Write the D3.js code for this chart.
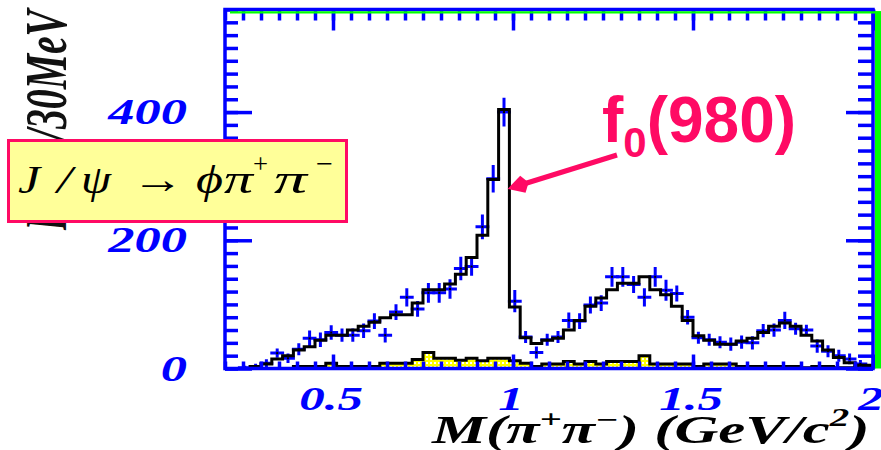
<!DOCTYPE html>
<html>
<head>
<meta charset="utf-8">
<script src="https://cdn.jsdelivr.net/npm/d3@7"></script>
<style>
  html, body { margin: 0; padding: 0; background: #ffffff; }
  svg { display: block; }
</style>
</head>
<body>
<svg id="chart" width="881" height="450"></svg>
<script>
// M(pi+ pi-) spectrum in J/psi -> phi pi+ pi-, 30 MeV bins starting at 0.21 GeV
const binStart = 0.21;
const binWidth = 0.03;

// fitted total (black histogram), events per bin
const fitCounts = [
  0, 0, 3, 7, 15, 20, 29, 34, 44, 52,
  52, 60, 66, 72, 79, 84, 84, 102, 123, 123,
  132, 147, 173, 208, 295, 404, 96, 48, 39, 44,
  47, 60, 75, 97, 110, 123, 133, 133, 143, 123,
  115, 97, 75, 51, 44, 38, 38, 43, 47, 56,
  66, 71, 66, 52, 43, 29, 17, 9, 5, 5
];

// measured events (blue crosses) and their errors
const dataCounts = [
  0, 1, 3, 8, 24, 16, 30, 47, 45, 56,
  52, 52, 59, 74, 52, 88, 111, 93, 118, 118,
  124, 156, 159, 221, 296, 400, 105, 49, 25, 45,
  49, 75, 74, 99, 102, 143, 143, 131, 111, 143,
  122, 117, 80, 48, 45, 41, 38, 41, 40, 59,
  60, 75, 62, 60, 35, 27, 20, 15, 7, 0
];
const dataErrors = [
  0, 1, 2, 4, 5, 5, 7, 10, 9, 9,
  8, 8, 9, 10, 9, 10, 12, 10, 13, 13,
  13, 16, 12, 17, 19, 20, 15, 7, 7, 7,
  7, 10, 10, 11, 10, 13, 13, 11, 12, 13,
  14, 10, 9, 7, 7, 7, 8, 8, 8, 8,
  8, 11, 7, 6, 8, 7, 7, 6, 4, 0
];

// background estimate (yellow histogram)
const bkgCounts = [
  0, 0, 0, 0, 0, 0, 3, 3, 3, 8,
  3, 3, 3, 3, 8, 8, 8, 14, 25, 16,
  16, 13, 16, 12, 16, 16, 12, 8, 3, 7,
  7, 11, 7, 11, 7, 11, 11, 11, 20, 7,
  7, 7, 7, 3, 7, 7, 7, 3, 3, 3,
  3, 3, 3, 1, 3, 3, 1, 1, 4, 4
];

// axis ticks and labels
const xMajorTicks = [0.5, 1, 1.5, 2];
const xTickLabels = ["0.5", "1", "1.5", "2"];
const yMajorTicks = [0, 200, 400];
const yTickLabels = ["0", "200", "400"];
const xMinorStep = 0.05;
const yMinorStep = 20;

const xTitle = ["M(π", "+", "π", "−", ") (GeV/c", "2", ")"];
const yTitle = ["Events", "/30MeV"];
const peakName = ["f", "0", "(980)"];
const peakTip = { m: 0.985, n: 280 };

// J/psi -> phi pi+ pi- : glyph, left, width, superscript?
const decayGlyphs = [
  ["J", 18, 22, false],
  ["/", 57, 15, false],
  ["ψ", 81, 30, false],
  ["→", 132, 52, false],
  ["ϕ", 196, 27, false],
  ["π", 224, 29, false],
  ["+", 253, 15, true],
  ["π", 274, 33, false],
  ["−", 316, 17, true]
];

const BLUE = "#0000ff";
const PINK = "#ff0a64";
const SERIF = "'Liberation Serif', 'Times New Roman', serif";
const STRETCH = 1.5;   // the figure's lettering is drawn wide

const svg = d3.select("#chart");

const x = d3.scaleLinear().domain([0.2, 2.0]).range([225, 873]);
const y = d3.scaleLinear().domain([0, 560]).range([368.5, 9.5]);

const binLo = fitCounts.map((_, i) => binStart + i * binWidth);

// ---- defs: clip to the frame, dithered yellow fill ----
const defs = svg.append("defs");
defs.append("clipPath").attr("id", "plotClip")
  .append("rect")
  .attr("x", x(0.2)).attr("y", y(560))
  .attr("width", x(2.0) - x(0.2)).attr("height", y(0) - y(560));
const pat = defs.append("pattern").attr("id", "dither")
  .attr("width", 4).attr("height", 4).attr("patternUnits", "userSpaceOnUse");
pat.append("rect").attr("width", 4).attr("height", 4).attr("fill", "#ffff00");
pat.append("rect").attr("x", 2).attr("y", 2).attr("width", 2).attr("height", 2).attr("fill", "#ffffff");

function stepPath(counts) {
  const first = counts.findIndex(v => v > 0);
  let last = counts.length - 1;
  while (last > first && counts[last] <= 0) last--;
  const pts = [[binLo[first], 0]];
  for (let i = first; i <= last; i++) {
    pts.push([binLo[i], counts[i]]);
    pts.push([binLo[i] + binWidth, counts[i]]);
  }
  pts.push([binLo[last] + binWidth, 0]);
  return d3.line().x(d => x(d[0])).y(d => y(d[1]))(pts);
}

const plot = svg.append("g").attr("clip-path", "url(#plotClip)");

// background histogram
plot.append("path")
  .attr("d", stepPath(bkgCounts))
  .attr("fill", "url(#dither)")
  .attr("stroke", "#000")
  .attr("stroke-width", 3)
  .attr("stroke-linejoin", "miter");

// data crosses
const pts = dataCounts.map((v, i) => ({ lo: binLo[i], v, e: dataErrors[i] })).filter(d => d.v > 0);
const cross = plot.append("g").attr("stroke", BLUE).attr("stroke-width", 3).attr("stroke-linecap", "square");
cross.selectAll("line.h").data(pts).join("line").attr("class", "h")
  .attr("x1", d => x(d.lo)).attr("x2", d => x(d.lo + binWidth))
  .attr("y1", d => y(d.v)).attr("y2", d => y(d.v));
cross.selectAll("line.v").data(pts).join("line").attr("class", "v")
  .attr("x1", d => x(d.lo + binWidth / 2)).attr("x2", d => x(d.lo + binWidth / 2))
  .attr("y1", d => y(d.v - d.e)).attr("y2", d => y(d.v + d.e));
plot.append("g").selectAll("rect").data(pts).join("rect")
  .attr("x", d => x(d.lo + binWidth / 2) - 1).attr("y", d => y(d.v) - 1)
  .attr("width", 2).attr("height", 2).attr("fill", "#000");

// fitted histogram
plot.append("path")
  .attr("d", stepPath(fitCounts))
  .attr("fill", "none")
  .attr("stroke", "#000")
  .attr("stroke-width", 3)
  .attr("stroke-linejoin", "miter");

// ---- frame and ticks ----
const xMinor = d3.range(4, 41).map(k => +(k * xMinorStep).toFixed(2));
const yMinor = d3.range(0, 29).map(k => k * yMinorStep);

function tickSet(axis, at, values, size) {
  const g = svg.append("g").attr("transform", at).attr("color", BLUE)
    .call(axis.tickValues(values).tickSize(size).tickFormat(""));
  g.select(".domain").remove();
  g.selectAll("line").attr("stroke-width", 3.5);
}
tickSet(d3.axisLeft(y), `translate(${x(0.2)},0)`, yMinor, -13);
tickSet(d3.axisLeft(y), `translate(${x(0.2)},0)`, yMajorTicks, -27);
tickSet(d3.axisRight(y), `translate(${x(2.0)},0)`, yMinor, -15);
tickSet(d3.axisRight(y), `translate(${x(2.0)},0)`, yMajorTicks, -27);
tickSet(d3.axisTop(x), `translate(0,${y(560)})`, xMinor, -11);
tickSet(d3.axisTop(x), `translate(0,${y(560)})`, xMajorTicks, -21);
tickSet(d3.axisBottom(x), `translate(0,${y(0)})`, xMinor, -7);
tickSet(d3.axisBottom(x), `translate(0,${y(0)})`, xMajorTicks, -14);

svg.append("rect")
  .attr("x", x(0.2)).attr("y", y(560))
  .attr("width", x(2.0) - x(0.2)).attr("height", y(0) - y(560))
  .attr("fill", "none").attr("stroke", BLUE).attr("stroke-width", 3.5);

// green edge along the top and right
svg.append("line").attr("x1", x(0.2) + 5).attr("x2", 881)
  .attr("y1", y(560) + 2.8).attr("y2", y(560) + 2.8)
  .attr("stroke", "#00ff00").attr("stroke-width", 2.2);
svg.append("line").attr("x1", x(2.0) + 5).attr("x2", x(2.0) + 5)
  .attr("y1", y(560) + 1.8).attr("y2", y(0))
  .attr("stroke", "#00ff00").attr("stroke-width", 6);

// ---- tick labels ----
yMajorTicks.forEach((v, i) => {
  svg.append("g").attr("transform", `translate(187,${y(v) + 12}) scale(${STRETCH},1)`)
    .append("text").attr("text-anchor", "end")
    .attr("font-family", SERIF).attr("font-weight", "bold").attr("font-style", "italic")
    .attr("font-size", 35).attr("fill", BLUE).text(yTickLabels[i]);
});
xMajorTicks.forEach((v, i) => {
  svg.append("g").attr("transform", `translate(${x(v) - 2},410) scale(${STRETCH},1)`)
    .append("text").attr("text-anchor", "middle")
    .attr("font-family", SERIF).attr("font-weight", "bold").attr("font-style", "italic")
    .attr("font-size", 34).attr("fill", BLUE).text(xTickLabels[i]);
});

// ---- axis titles ----
const xt = svg.append("g").attr("transform", `translate(432,443) scale(1.56,1)`)
  .append("text")
  .attr("font-family", SERIF).attr("font-weight", "bold").attr("font-style", "italic")
  .attr("font-size", 39).attr("fill", "#000");
xt.append("tspan").text(xTitle[0]);
xt.append("tspan").attr("dy", -15).attr("font-size", 25).text(xTitle[1]);
xt.append("tspan").attr("dy", 15).text(xTitle[2]);
xt.append("tspan").attr("dy", -15).attr("font-size", 25).text(xTitle[3]);
xt.append("tspan").attr("dy", 15).text(xTitle[4]);
xt.append("tspan").attr("dy", -17).attr("font-size", 25).text(xTitle[5]);
xt.append("tspan").attr("dy", 17).text(xTitle[6]);

// vertical title: the two parts are laid out with their own lengths
const yt = svg.append("g").attr("transform", `translate(66,230) scale(${STRETCH},1) rotate(-90)`)
  .attr("font-family", SERIF).attr("font-weight", "bold").attr("font-style", "italic")
  .attr("font-size", 40).attr("fill", "#111");
yt.append("text").attr("x", 0)
  .attr("textLength", 90).attr("lengthAdjust", "spacingAndGlyphs").text(yTitle[0]);
yt.append("text").attr("x", 90)
  .attr("textLength", 130).attr("lengthAdjust", "spacingAndGlyphs").text(yTitle[1]);

// ---- process label ----
svg.append("rect").attr("x", 8.5).attr("y", 140.5).attr("width", 338).attr("height", 81)
  .attr("fill", "#ffff99").attr("stroke", PINK).attr("stroke-width", 3);
const lg = svg.append("g")
  .attr("font-family", SERIF).attr("fill", "#000");
decayGlyphs.forEach(([ch, left, w, sup]) => {
  lg.append("text")
    .attr("x", left).attr("y", sup ? 173 : 193)
    .attr("font-size", sup ? 28 : 41)
    .attr("font-style", sup || ch === "→" ? "normal" : "italic")
    .attr("textLength", w).attr("lengthAdjust", "spacingAndGlyphs")
    .text(ch);
});

// ---- f0(980) annotation ----
const ft = svg.append("text").attr("x", 602).attr("y", 142)
  .attr("font-family", "'Liberation Sans', Arial, sans-serif").attr("font-weight", "bold")
  .attr("font-size", 64).attr("fill", PINK);
ft.append("tspan").text(peakName[0]);
ft.append("tspan").attr("dy", 15).attr("font-size", 42).text(peakName[1]);
ft.append("tspan").attr("dy", -15).text(peakName[2]);

const tip = [x(peakTip.m), y(peakTip.n)];
const tail = [617, 155];
const dx = tip[0] - tail[0], dy = tip[1] - tail[1];
const len = Math.hypot(dx, dy);
const ux = dx / len, uy = dy / len;
const headLen = 19, headHalf = 9;
const base = [tip[0] - headLen * ux, tip[1] - headLen * uy];
svg.append("line")
  .attr("x1", tail[0]).attr("y1", tail[1])
  .attr("x2", base[0] + 3 * ux).attr("y2", base[1] + 3 * uy)
  .attr("stroke", PINK).attr("stroke-width", 5);
svg.append("polygon")
  .attr("points", [
    tip,
    [base[0] - headHalf * uy + 3 * ux, base[1] + headHalf * ux + 3 * uy],
    [base[0] - 3 * ux, base[1] - 3 * uy],
    [base[0] + headHalf * uy + 3 * ux, base[1] - headHalf * ux + 3 * uy]
  ].map(p => p.join(",")).join(" "))
  .attr("fill", PINK);
</script>
</body>
</html>
